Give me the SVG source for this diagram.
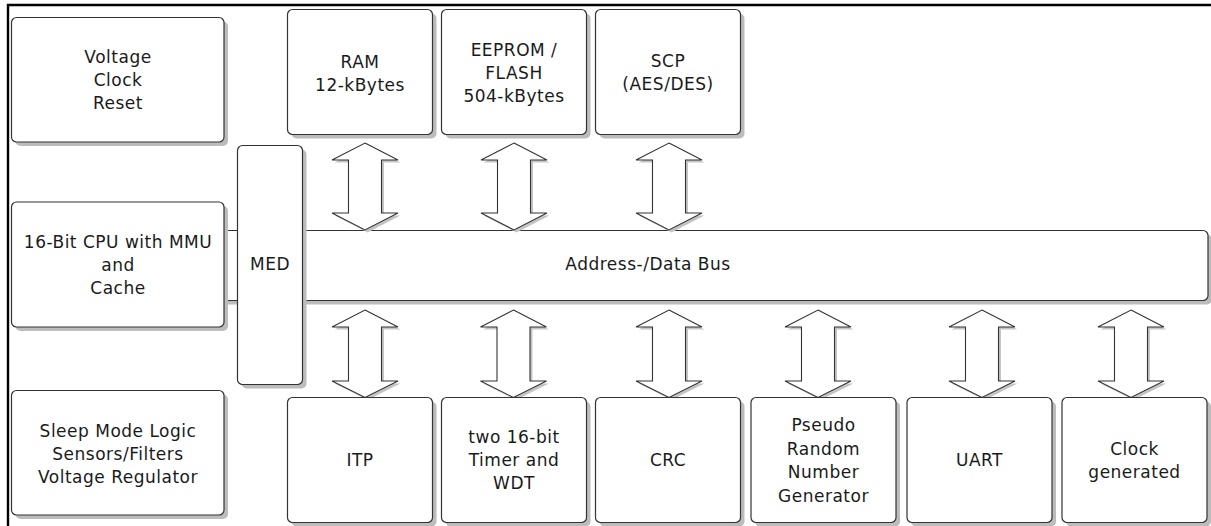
<svg xmlns="http://www.w3.org/2000/svg" xmlns:xlink="http://www.w3.org/1999/xlink" width="1211" height="526" viewBox="0 0 1211 526">
<style>
.box{fill:#fff;stroke:#333;stroke-width:1.2}
.sh{fill:#bcbcbc;stroke:none}
.arr{fill:#fff;stroke:#333;stroke-width:1.1}
.ash{fill:#c4c4c4;stroke:none}
text{font-family:"DejaVu Sans","Liberation Sans",sans-serif;font-size:17px;fill:#1a1a1a;text-anchor:middle;letter-spacing:0.5px}
</style>
<defs>
<polygon id="arrT" points="0,143 33,160 16.5,160 16.5,213 33,213 0,230 -33,213 -16.5,213 -16.5,160 -33,160"/>
<polygon id="arrB" points="0,310 33,327 16.5,327 16.5,381 33,381 0,397.5 -33,381 -16.5,381 -16.5,327 -33,327"/>
</defs>
<rect width="1211" height="526" fill="#fff"/>
<path d="M8,526 V5 H1211" fill="none" stroke="#000" stroke-width="2.4"/>

<g id="bus">
<rect class="sh" x="92.5" y="234.5" width="1119.5" height="70" rx="5"/>
<rect class="box" x="88.5" y="230.5" width="1119.5" height="70" rx="5"/>
<text x="648" y="270">Address-/Data Bus</text>
</g>

<g id="connectors">
<use href="#arrT" class="ash" x="367.5" y="2.5"/><use href="#arrT" class="arr" x="365"/>
<use href="#arrT" class="ash" x="516.5" y="2.5"/><use href="#arrT" class="arr" x="514"/>
<use href="#arrT" class="ash" x="671.5" y="2.5"/><use href="#arrT" class="arr" x="669"/>
<use href="#arrB" class="ash" x="367.5" y="2.5"/><use href="#arrB" class="arr" x="365"/>
<use href="#arrB" class="ash" x="516" y="2.5"/><use href="#arrB" class="arr" x="513.5"/>
<use href="#arrB" class="ash" x="671.5" y="2.5"/><use href="#arrB" class="arr" x="669"/>
<use href="#arrB" class="ash" x="820.5" y="2.5"/><use href="#arrB" class="arr" x="818"/>
<use href="#arrB" class="ash" x="984.5" y="2.5"/><use href="#arrB" class="arr" x="982"/>
<use href="#arrB" class="ash" x="1133.5" y="2.5"/><use href="#arrB" class="arr" x="1131"/>
</g>

<g id="voltage">
<rect class="sh" x="15.5" y="21.5" width="212.5" height="124.5" rx="5"/>
<rect class="box" x="11.5" y="17.5" width="212.5" height="124.5" rx="5"/>
<text x="118" y="63">Voltage</text><text x="118" y="86">Clock</text><text x="118" y="109">Reset</text>
</g>
<g id="cpu">
<rect class="sh" x="15.5" y="206" width="212.5" height="125" rx="5"/>
<rect class="box" x="11.5" y="202" width="212.5" height="125" rx="5"/>
<text x="118" y="248">16-Bit CPU with MMU</text><text x="118" y="271">and</text><text x="118" y="294">Cache</text>
</g>
<g id="sleep">
<rect class="sh" x="15.5" y="394.5" width="212.5" height="124.5" rx="5"/>
<rect class="box" x="11.5" y="390.5" width="212.5" height="124.5" rx="5"/>
<text x="118" y="437">Sleep Mode Logic</text><text x="118" y="460">Sensors/Filters</text><text x="118" y="483">Voltage Regulator</text>
</g>
<g id="med">
<rect class="sh" x="241.5" y="149.5" width="65" height="239" rx="5"/>
<rect class="box" x="237.5" y="145.5" width="65" height="239" rx="5"/>
<text x="270" y="270">MED</text>
</g>
<g id="ram">
<rect class="sh" x="291.5" y="13.5" width="145" height="125" rx="5"/>
<rect class="box" x="287.5" y="9.5" width="145" height="125" rx="5"/>
<text x="360" y="68">RAM</text><text x="360" y="91">12-kBytes</text>
</g>
<g id="eeprom">
<rect class="sh" x="445.5" y="13.5" width="145" height="125" rx="5"/>
<rect class="box" x="441.5" y="9.5" width="145" height="125" rx="5"/>
<text x="514" y="56">EEPROM /</text><text x="514" y="79">FLASH</text><text x="514" y="102">504-kBytes</text>
</g>
<g id="scp">
<rect class="sh" x="599.5" y="13.5" width="145" height="125" rx="5"/>
<rect class="box" x="595.5" y="9.5" width="145" height="125" rx="5"/>
<text x="668" y="67">SCP</text><text x="668" y="90">(AES/DES)</text>
</g>
<g id="itp">
<rect class="sh" x="291.5" y="401.5" width="145" height="125" rx="5"/>
<rect class="box" x="287.5" y="397.5" width="145" height="125" rx="5"/>
<text x="360" y="466">ITP</text>
</g>
<g id="timer">
<rect class="sh" x="445.5" y="401.5" width="145" height="125" rx="5"/>
<rect class="box" x="441.5" y="397.5" width="145" height="125" rx="5"/>
<text x="514" y="443">two 16-bit</text><text x="514" y="466">Timer and</text><text x="514" y="489">WDT</text>
</g>
<g id="crc">
<rect class="sh" x="599.5" y="401.5" width="145" height="125" rx="5"/>
<rect class="box" x="595.5" y="397.5" width="145" height="125" rx="5"/>
<text x="668" y="466">CRC</text>
</g>
<g id="prng">
<rect class="sh" x="755" y="401.5" width="145" height="125" rx="5"/>
<rect class="box" x="751" y="397.5" width="145" height="125" rx="5"/>
<text x="823.5" y="431">Pseudo</text><text x="823.5" y="455">Random</text><text x="823.5" y="478">Number</text><text x="823.5" y="501.5">Generator</text>
</g>
<g id="uart">
<rect class="sh" x="911" y="401.5" width="145" height="125" rx="5"/>
<rect class="box" x="907" y="397.5" width="145" height="125" rx="5"/>
<text x="979.5" y="466">UART</text>
</g>
<g id="clockgen">
<rect class="sh" x="1066" y="401.5" width="145" height="125" rx="5"/>
<rect class="box" x="1062" y="397.5" width="145" height="125" rx="5"/>
<text x="1134.5" y="455">Clock</text><text x="1134.5" y="478">generated</text>
</g>
</svg>
